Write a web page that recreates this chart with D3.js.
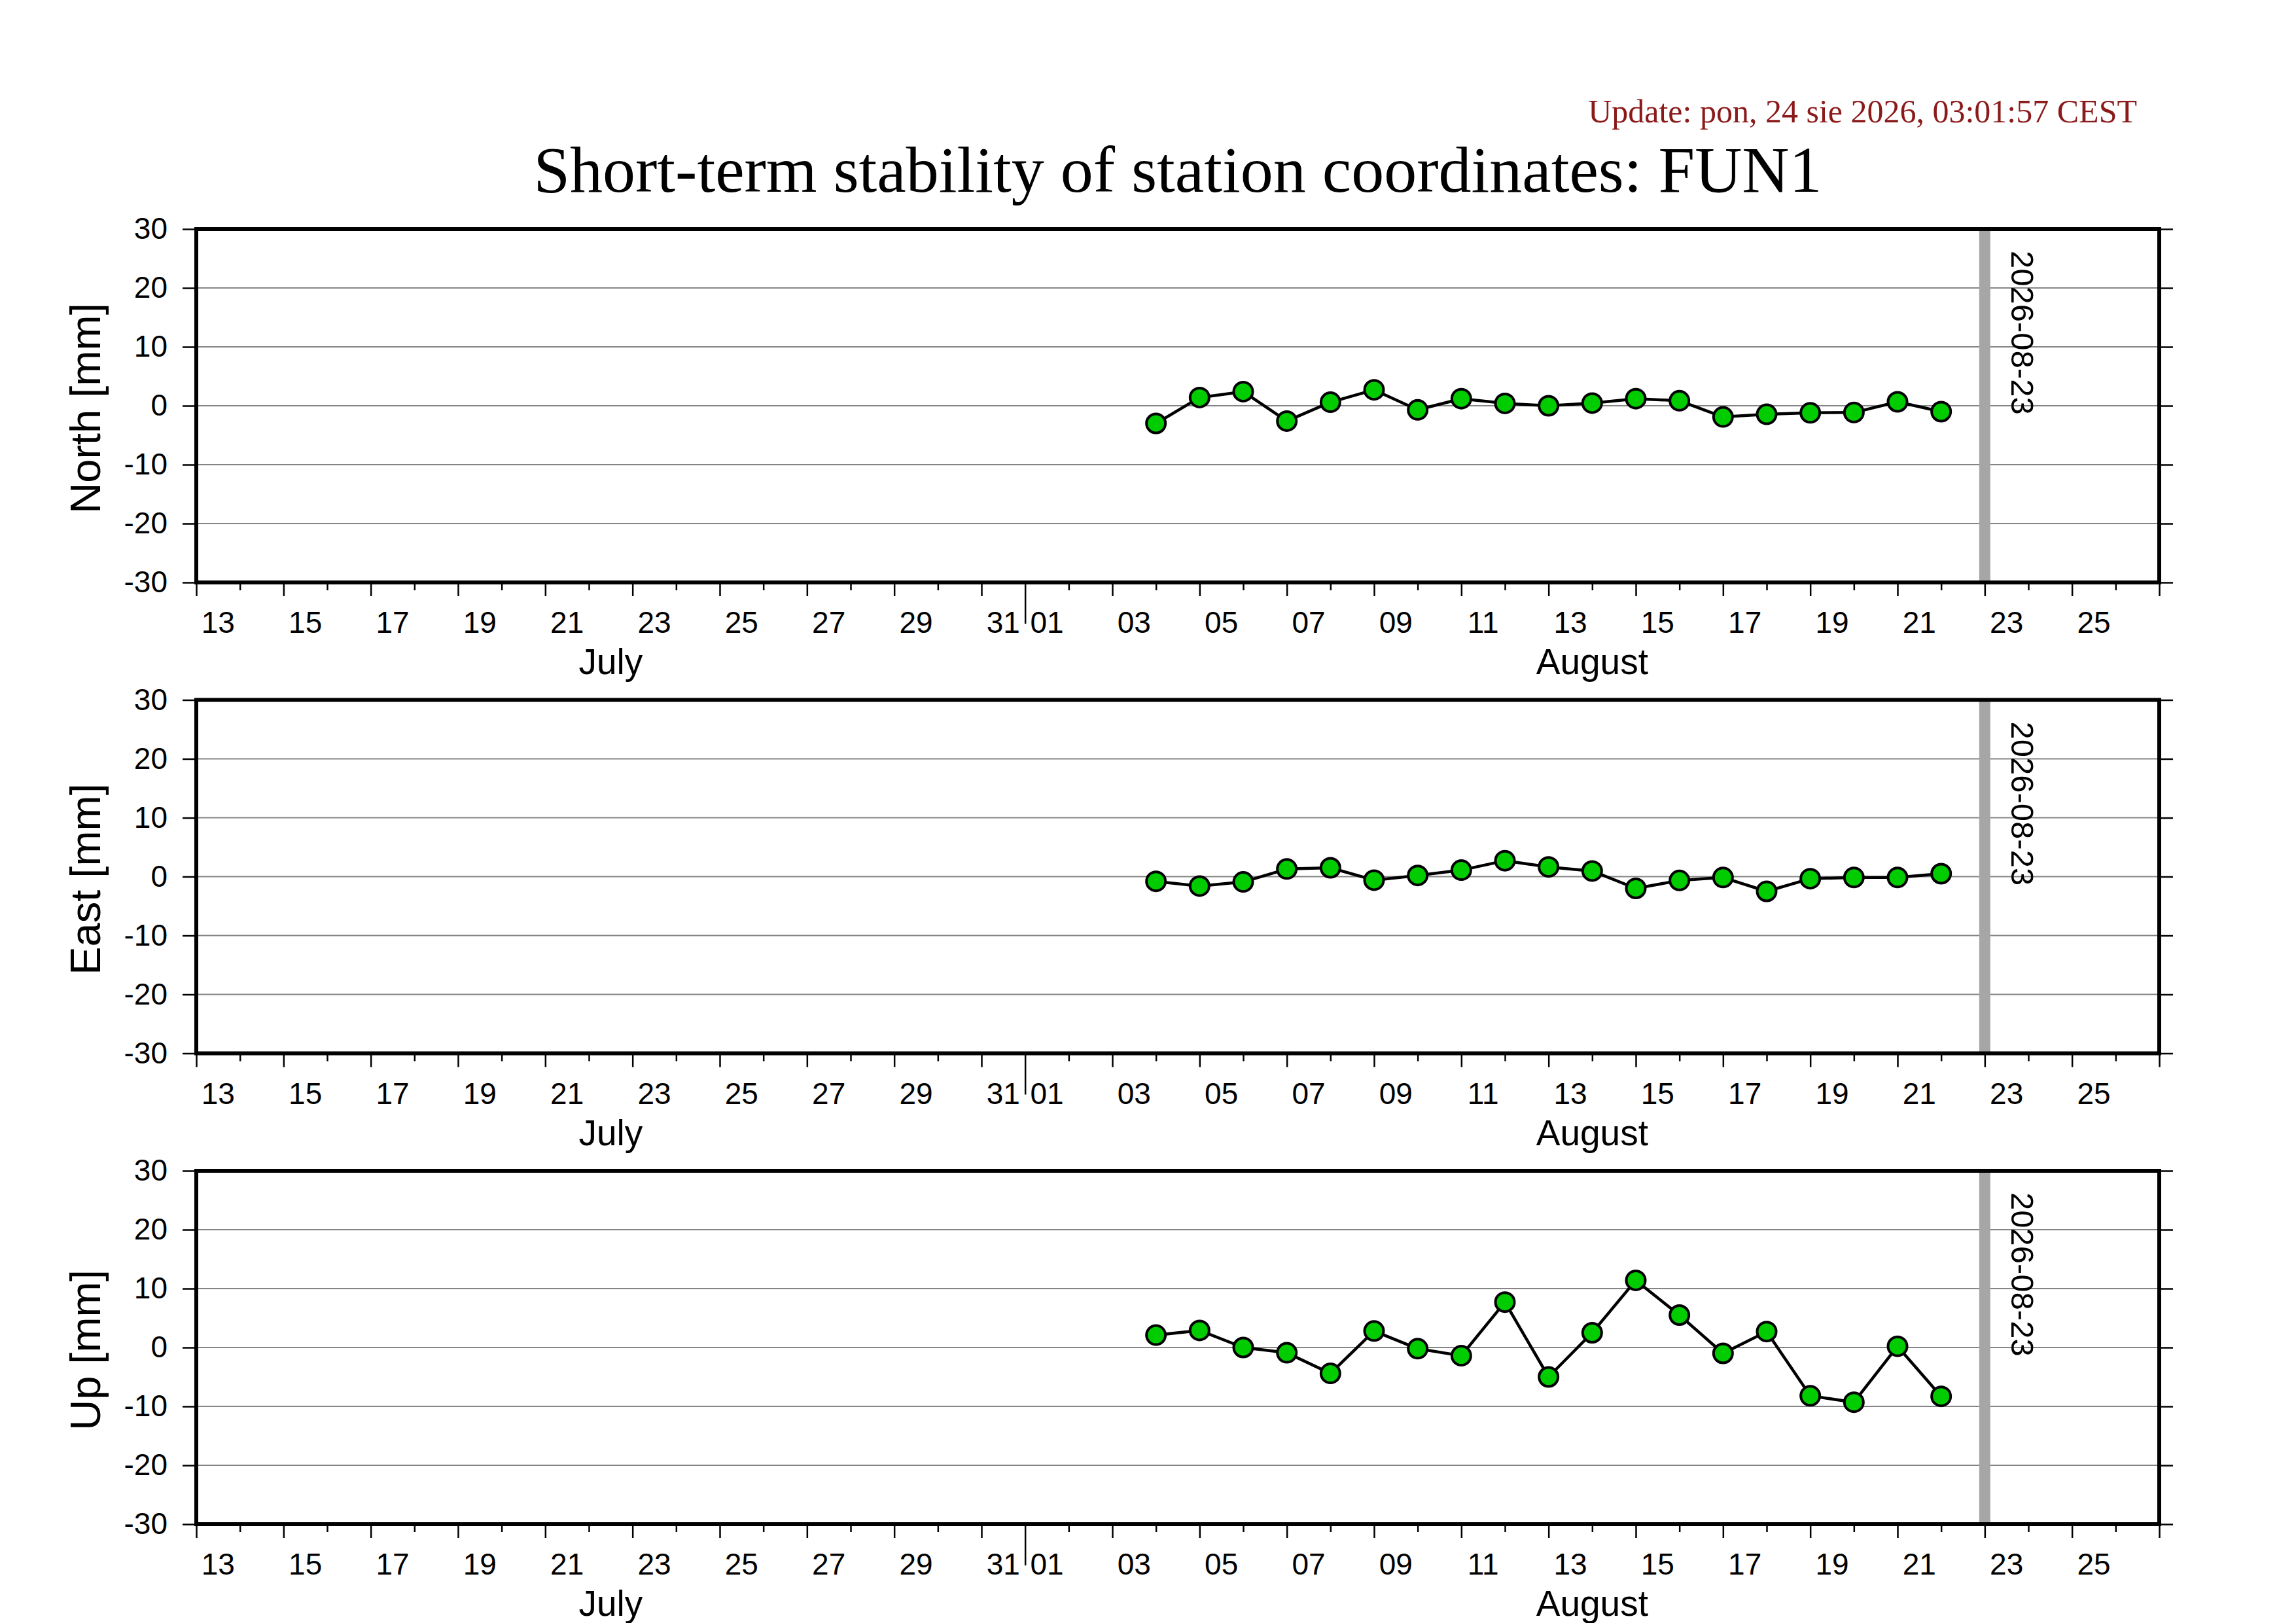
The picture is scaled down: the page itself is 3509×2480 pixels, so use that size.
<!DOCTYPE html>
<html>
<head>
<meta charset="utf-8">
<script src="https://cdn.jsdelivr.net/npm/d3@7"></script>
<style>
html,body{margin:0;padding:0;background:#fff;}
svg{display:block;}
</style>
</head>
<body>
<svg id="chart" width="3509" height="2480"></svg>
<script>
// ---- data ----
const titleText = "Short-term stability of station coordinates: FUN1";
const updateText = "Update: pon, 24 sie 2026, 03:01:57 CEST";
const dates = ["2026-08-04","2026-08-05","2026-08-06","2026-08-07","2026-08-08","2026-08-09","2026-08-10",
  "2026-08-11","2026-08-12","2026-08-13","2026-08-14","2026-08-15","2026-08-16","2026-08-17",
  "2026-08-18","2026-08-19","2026-08-20","2026-08-21","2026-08-22"];
const north = [-3.0, 1.4, 2.4, -2.6, 0.6, 2.7, -0.7, 1.2, 0.4, 0.0, 0.45, 1.2, 0.85, -1.9, -1.45, -1.2, -1.15, 0.67, -1.0];
const east  = [-0.8, -1.6, -0.9, 1.3, 1.5, -0.6, 0.2, 1.1, 2.7, 1.65, 0.95, -2.0, -0.65, -0.15, -2.5, -0.35, -0.15, -0.15, 0.5];
const up    = [2.1, 2.9, 0.0, -0.9, -4.4, 2.8, -0.2, -1.4, 7.7, -5.0, 2.5, 11.4, 5.5, -1.0, 2.7, -8.2, -9.3, 0.2, -8.3];
const panelLabels = ["North [mm]", "East [mm]", "Up [mm]"];
const yTicks = [-30, -20, -10, 0, 10, 20, 30];
const xDomain = ["2026-07-13", "2026-08-27"];
const markerDate = "2026-08-23";
const months = [["July","2026-07-13","2026-08-01"],["August","2026-08-01","2026-08-27"]];

// ---- layout ----
const W = 3509, H = 2480;
const left = 300, right = 3300;
const panelTop0 = 350, panelStep = 719.5, panelH = 540;
const parse = s => new Date(s + "T00:00:00Z");

const svg = d3.select("#chart");
svg.append("rect").attr("width", W).attr("height", H).attr("fill", "#fff");

const x = d3.scaleUtc().domain(xDomain.map(parse)).range([left, right]);

// title & update
svg.append("text").attr("x", (left + right) / 2).attr("y", 293)
  .attr("text-anchor", "middle").attr("font-family", "'Liberation Serif','Times New Roman',serif")
  .attr("font-size", 100).attr("fill", "#000").text(titleText);
svg.append("text").attr("x", 3266).attr("y", 187)
  .attr("text-anchor", "end").attr("font-family", "'Liberation Serif','Times New Roman',serif")
  .attr("font-size", 50).attr("fill", "#8b1a1a").text(updateText);

const series = [north, east, up];
const sans = "'Liberation Sans',Arial,Helvetica,sans-serif";

series.forEach((vals, i) => {
  const top = panelTop0 + i * panelStep;
  const bottom = top + panelH;
  const y = d3.scaleLinear().domain([-30, 30]).range([bottom, top]);
  const g = svg.append("g");

  // gridlines
  g.append("g").selectAll("line").data(yTicks.filter(t => t > -30 && t < 30)).join("line")
    .attr("x1", left).attr("x2", right)
    .attr("y1", d => y(d)).attr("y2", d => y(d))
    .attr("stroke", "#858585").attr("stroke-width", 2.2);

  // marker date vertical line
  const mx = x(parse(markerDate));
  g.append("line").attr("x1", mx).attr("x2", mx).attr("y1", top).attr("y2", bottom)
    .attr("stroke", "#a6a6a6").attr("stroke-width", 17);

  g.append("text")
    .attr("transform", `translate(${mx + 41},${top + 33}) rotate(90)`)
    .attr("font-family", sans).attr("font-size", 49).attr("fill", "#000")
    .text(markerDate);

  // left axis
  const ya = g.append("g").attr("transform", `translate(${left},0)`)
    .call(d3.axisLeft(y).tickValues(yTicks).tickSize(21).tickPadding(23).tickFormat(d => String(d)));
  ya.select(".domain").remove();
  ya.selectAll(".tick line").attr("stroke", "#000").attr("stroke-width", 2.5);
  ya.selectAll(".tick text").attr("font-family", sans).attr("font-size", 46).attr("fill", "#000");

  // right axis ticks
  const yr = g.append("g").attr("transform", `translate(${right},0)`)
    .call(d3.axisRight(y).tickValues(yTicks).tickSize(21).tickFormat(""));
  yr.select(".domain").remove();
  yr.selectAll(".tick line").attr("stroke", "#000").attr("stroke-width", 2.5);

  // bottom axis ticks (daily)
  const days = d3.utcDay.range(x.domain()[0], d3.utcDay.offset(x.domain()[1], 1));
  const xa = g.append("g").attr("transform", `translate(0,${bottom})`)
    .call(d3.axisBottom(x).tickValues(days).tickFormat(""));
  xa.select(".domain").remove();
  xa.selectAll(".tick line")
    .attr("y2", d => d.getUTCDate() === 1 ? 63 : (d.getUTCDate() % 2 === 1 ? 21 : 12))
    .attr("stroke", "#000").attr("stroke-width", 2.5);

  // day labels at noon of odd days
  const labDays = days.filter(d => d.getUTCDate() % 2 === 1 && d < x.domain()[1]);
  g.append("g").selectAll("text").data(labDays).join("text")
    .attr("x", d => x(d3.utcHour.offset(d, 12)))
    .attr("y", bottom + 77)
    .attr("text-anchor", "middle").attr("font-family", sans).attr("font-size", 46).attr("fill", "#000")
    .text(d => d3.utcFormat("%d")(d));

  // month labels
  g.append("g").selectAll("text").data(months).join("text")
    .attr("x", d => (x(parse(d[1])) + x(parse(d[2]))) / 2)
    .attr("y", bottom + 140)
    .attr("text-anchor", "middle").attr("font-family", sans).attr("font-size", 55).attr("fill", "#000")
    .text(d => d[0]);

  // y label
  g.append("text")
    .attr("transform", `translate(153,${(top + bottom) / 2 + 4}) rotate(-90)`)
    .attr("text-anchor", "middle").attr("font-family", sans).attr("font-size", 65).attr("fill", "#000")
    .text(panelLabels[i]);

  // frame
  g.append("rect").attr("x", left).attr("y", top).attr("width", right - left).attr("height", panelH)
    .attr("fill", "none").attr("stroke", "#000").attr("stroke-width", 6);

  // data
  const pts = dates.map((d, k) => ({ t: parse(d), v: vals[k] }));
  const line = d3.line().x(d => x(d.t)).y(d => y(d.v));
  g.append("path").datum(pts).attr("d", line)
    .attr("fill", "none").attr("stroke", "#000").attr("stroke-width", 4.5).attr("stroke-linejoin", "round");
  g.append("g").selectAll("circle").data(pts).join("circle")
    .attr("cx", d => x(d.t)).attr("cy", d => y(d.v)).attr("r", 14.5)
    .attr("fill", "#00cc00").attr("stroke", "#000").attr("stroke-width", 4);
});
</script>
</body>
</html>
